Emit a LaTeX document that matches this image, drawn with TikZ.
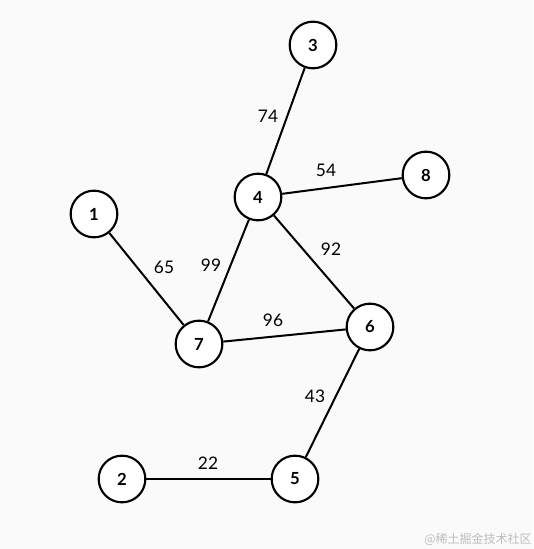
\documentclass[tikz,border=0pt]{standalone}
\usepackage{fontspec}
\setmainfont{Lato}
\newfontfamily\cjk{Noto Sans CJK SC}
\definecolor{bgc}{HTML}{FAFAFA}
\definecolor{wmc}{HTML}{BDBDBD}
\begin{document}
\begin{tikzpicture}[x=0.75pt,y=-0.75pt,
  vtx/.style={circle,draw=black,line width=1.6pt,fill=white,minimum size=35pt,inner sep=0pt,font=\fontsize{12.5}{12.5}\selectfont\bfseries},
  edge/.style={line width=1.5pt,black},
  wlab/.style={font=\fontsize{13}{13}\selectfont,inner sep=0pt}]
\fill[bgc] (0,0) rectangle (533,549);
\useasboundingbox (0,0) rectangle (533,549);
\node[vtx] (v3) at (313,45) {3};
\node[vtx] (v4) at (258,197) {4};
\node[vtx] (v8) at (426,175) {8};
\node[vtx] (v1) at (94,214) {1};
\node[vtx] (v7) at (199,344) {7};
\node[vtx] (v6) at (370,327) {6};
\node[vtx] (v2) at (122,479) {2};
\node[vtx] (v5) at (295,479) {5};
\draw[edge] (v3) -- (v4);
\draw[edge] (v4) -- (v8);
\draw[edge] (v4) -- (v7);
\draw[edge] (v4) -- (v6);
\draw[edge] (v1) -- (v7);
\draw[edge] (v7) -- (v6);
\draw[edge] (v6) -- (v5);
\draw[edge] (v2) -- (v5);
\node[wlab] (l74) at (268,116) {74};
\node[wlab] (l54) at (326,170) {54};
\node[wlab] (l65) at (164,267) {65};
\node[wlab] (l99) at (211,265) {99};
\node[wlab] (l92) at (331,249) {92};
\node[wlab] (l96) at (273,320) {96};
\node[wlab] (l43) at (315,396) {43};
\node[wlab] (l22) at (208,463) {22};
\node[font=\cjk\fontsize{9}{9}\selectfont,text=wmc,inner sep=0pt] (wm) at (478,539) {@稀土掘金技术社区};
\end{tikzpicture}
\end{document}
